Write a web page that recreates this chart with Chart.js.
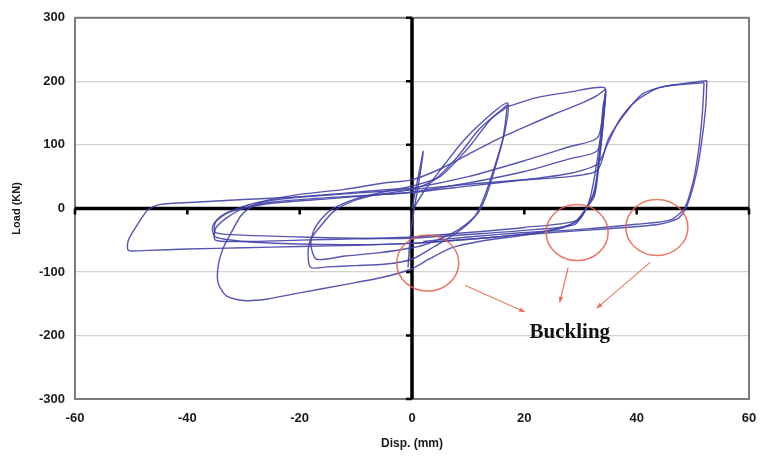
<!DOCTYPE html>
<html>
<head>
<meta charset="utf-8">
<script src="https://cdn.jsdelivr.net/npm/chart.js@4.4.1/dist/chart.umd.min.js"></script>
<style>
  body { margin: 0; background: #fff; }
  canvas { display: block; }
</style>
</head>
<body>
<canvas id="grafico" width="763" height="461"></canvas>
<script>
// Datos: desplazamiento (mm) y carga (KN), por ciclo
// ciclo elastico inicial
const c0x = [0, 1, 2, 1.2, 0.4, -0.3, -0.7, -0.2, 0.3];
const c0y = [0, 45, 90, 40, 0, -45, -92, -40, 0];

// ciclos +-17 mm
const c1x = [0.3, 2, 5, 9, 13, 17, 16.5, 14.5, 12.5, 11, 8, 4, 0, -5, -10, -15, -18, -18.5, -18, -16, -14, -11, -6, 0, 4, 8, 12, 17];
const c1y = [0, 25, 60, 105, 140, 166, 120, 60, 10, -15, -38, -60, -80, -88, -90, -92, -93, -72, -48, -25, -5, 10, 22, 30, 45, 80, 125, 163];
const c2x = [17, 16.2, 14.5, 13, 11.5, 8, 3, 0, -6, -12, -17, -18, -17.5, -16, -14, -10, -4, 0, 5, 10, 14, 17];
const c2y = [163, 110, 55, 15, -10, -35, -55, -62, -70, -75, -80, -58, -35, -15, 0, 15, 28, 35, 50, 95, 140, 160];

// primer ciclo +-34 mm (con el lazo hasta -145 KN)
const c3x = [17, 22, 28, 34.3, 34, 33.5, 32.5, 31.5, 30, 27, 20, 12, 7, 3, 0, -5, -12, -20, -26, -30, -33, -34.5, -34.5, -33.5, -32, -30.5, -29, -26, -20, -12, -5, 0, 5, 10, 15, 20, 25, 30, 33, 34.5];
const c3y = [160, 174, 183, 190, 160, 110, 50, 10, -15, -30, -42, -52, -62, -80, -95, -108, -120, -133, -143, -145, -138, -118, -90, -60, -35, -12, 0, 12, 22, 30, 40, 45, 62, 85, 108, 128, 147, 165, 178, 188];

// ciclos siguientes +-34 mm
const c4x = [34.5, 34.2, 33.5, 32.5, 31, 29, 24, 15, 5, 0, -10, -20, -30, -35, -35.5, -34, -31, -27, -20, -12, -4, 0, 10, 20, 28, 33, 34, 34.5];
const c4y = [188, 150, 90, 30, 0, -22, -35, -45, -52, -55, -57, -56, -52, -45, -28, -12, 0, 10, 18, 24, 30, 32, 50, 75, 97, 111, 150, 185];
const c5x = [34.5, 34, 33.3, 32.5, 31, 29, 22, 12, 3, 0, -10, -20, -30, -35, -35, -33, -30, -25, -15, -5, 0, 10, 20, 28, 33, 34, 34.5];
const c5y = [185, 140, 80, 25, 0, -25, -33, -40, -45, -47, -47, -45, -42, -38, -22, -8, 0, 8, 15, 22, 26, 40, 58, 78, 91, 140, 180];

// ciclos +-52 mm
const c6x = [34.5, 34, 33.3, 32.5, 31, 29, 20, 10, 0, -10, -20, -30, -35, -35, -33, -30, -25, -15, -5, 0, 10, 20, 28, 33, 35, 37, 40, 44, 48, 52.5];
const c6y = [180, 130, 70, 20, 0, -20, -30, -38, -45, -48, -50, -52, -50, -32, -15, 0, 10, 17, 22, 25, 35, 45, 55, 70, 105, 140, 170, 190, 196, 201];
const c7x = [52.5, 52.3, 51.5, 50.5, 49, 47.5, 44, 35, 25, 15, 5, 0, -10, -20, -30, -40, -47, -50.5, -50.5, -48.5, -47, -45, -38, -30, -20, -10, 0, 10, 20, 28, 33, 35, 38, 41, 45, 52];
const c7y = [201, 160, 100, 50, 5, -15, -25, -32, -38, -45, -52, -55, -58, -60, -62, -64, -66, -66, -50, -20, -2, 6, 10, 14, 18, 24, 30, 38, 45, 50, 60, 110, 150, 180, 192, 198];
const c8x = [52, 51.7, 51, 50, 48.5, 46, 40, 30, 20, 10, 2];
const c8y = [198, 150, 90, 40, 0, -18, -25, -33, -38, -45, -52];

const ciclosX = [c0x, c1x, c2x, c3x, c4x, c5x, c6x, c7x, c8x];
const ciclosY = [c0y, c1y, c2y, c3y, c4y, c5y, c6y, c7y, c8y];

// Marcas de pandeo (circulos) y texto
const pandeoX = [2.8, 29.4, 43.6];
const pandeoY = [-86, -38, -30];
const flechaDesdeX = [9.4, 27.8, 42.4];
const flechaDesdeY = [-121, -93, -85];
const flechaHastaX = [20.1, 26.3, 32.9];
const flechaHastaY = [-163, -148, -157];
const textoPandeo = "Buckling";
const textoX = 28.1;
const textoY = -196;

const fuenteEje = { family: "'Liberation Sans', Arial, sans-serif", size: 13, weight: 'bold' };

// Plugin para dibujar el marco, los ejes en cero y las anotaciones
const dibujoExtra = {
    id: 'dibujoExtra',
    beforeDatasetsDraw(chart) {
        const ctx = chart.ctx;
        const a = chart.chartArea;
        const sx = chart.scales.x, sy = chart.scales.y;
        ctx.save();
        // marco gris
        ctx.strokeStyle = '#7a7a7a';
        ctx.lineWidth = 2;
        ctx.strokeRect(a.left, a.top, a.right - a.left, a.bottom - a.top);
        // ejes negros en cero
        const x0 = sx.getPixelForValue(0);
        const y0 = sy.getPixelForValue(0);
        ctx.strokeStyle = '#000';
        ctx.lineWidth = 3.5;
        ctx.beginPath();
        ctx.moveTo(a.left, y0); ctx.lineTo(a.right, y0);
        ctx.moveTo(x0, a.top); ctx.lineTo(x0, a.bottom);
        ctx.stroke();
        // marcas de los ejes
        ctx.lineWidth = 2.5;
        ctx.beginPath();
        for (let v = -60; v <= 60; v += 20) {
            const px = sx.getPixelForValue(v);
            ctx.moveTo(px, y0); ctx.lineTo(px, y0 + 6);
        }
        for (let v = -300; v <= 300; v += 100) {
            const py = sy.getPixelForValue(v);
            ctx.moveTo(x0, py); ctx.lineTo(x0 - 6, py);
        }
        ctx.stroke();
        ctx.restore();
    },
    afterDatasetsDraw(chart) {
        const ctx = chart.ctx;
        const sx = chart.scales.x, sy = chart.scales.y;
        ctx.save();
        ctx.strokeStyle = 'rgba(228, 100, 80, 0.85)';
        ctx.fillStyle = 'rgba(228, 100, 80, 0.9)';
        ctx.lineWidth = 1.6;
        for (let i = 0; i < pandeoX.length; i++) {
            ctx.beginPath();
            ctx.ellipse(sx.getPixelForValue(pandeoX[i]), sy.getPixelForValue(pandeoY[i]), 31, 28, 0, 0, Math.PI * 2);
            ctx.stroke();
        }
        ctx.lineWidth = 1.2;
        for (let i = 0; i < flechaDesdeX.length; i++) {
            const x1 = sx.getPixelForValue(flechaDesdeX[i]), y1 = sy.getPixelForValue(flechaDesdeY[i]);
            const x2 = sx.getPixelForValue(flechaHastaX[i]), y2 = sy.getPixelForValue(flechaHastaY[i]);
            ctx.beginPath();
            ctx.moveTo(x1, y1); ctx.lineTo(x2, y2);
            ctx.stroke();
            const ang = Math.atan2(y2 - y1, x2 - x1);
            ctx.beginPath();
            ctx.moveTo(x2, y2);
            ctx.lineTo(x2 - 6 * Math.cos(ang - 0.4), y2 - 6 * Math.sin(ang - 0.4));
            ctx.lineTo(x2 - 6 * Math.cos(ang + 0.4), y2 - 6 * Math.sin(ang + 0.4));
            ctx.closePath();
            ctx.fill();
        }
        ctx.fillStyle = '#111';
        ctx.font = "bold 21px 'Liberation Serif', 'Times New Roman', serif";
        ctx.textAlign = 'center';
        ctx.textBaseline = 'middle';
        ctx.fillText(textoPandeo, sx.getPixelForValue(textoX), sy.getPixelForValue(textoY));
        ctx.restore();
    }
};

const datasets = ciclosX.map(function (xs, i) {
    const ys = ciclosY[i];
    return {
        data: xs.map(function (x, j) { return { x: x, y: ys[j] }; }),
        borderColor: 'rgba(68, 68, 168, 0.9)',
        borderWidth: 1.4,
        pointRadius: 0,
        showLine: true,
        fill: false,
        tension: 0.25
    };
});

new Chart(document.getElementById('grafico').getContext('2d'), {
    type: 'scatter',
    data: { datasets: datasets },
    plugins: [dibujoExtra],
    options: {
        responsive: false,
        animation: false,
        layout: { padding: { top: 17, right: 14, left: 0, bottom: 0 } },
        plugins: { legend: { display: false }, tooltip: { enabled: false } },
        scales: {
            x: {
                type: 'linear',
                min: -60, max: 60,
                ticks: { stepSize: 20, font: fuenteEje, color: '#1a1a1a', padding: 12 },
                grid: { display: false, drawTicks: false },
                border: { display: false },
                title: { display: true, text: 'Disp. (mm)', color: '#1a1a1a',
                         font: { family: "'Liberation Sans', Arial, sans-serif", size: 12, weight: 'bold' },
                         padding: { top: 0, bottom: 10 } },
                afterFit: function (scale) {
                    scale.height = 62;
                    scale.paddingLeft = 0;
                    scale.paddingRight = 0;
                }
            },
            y: {
                min: -300, max: 300,
                ticks: { stepSize: 100, font: fuenteEje, color: '#1a1a1a', padding: 10 },
                grid: { color: '#d2d2d2', lineWidth: 1.2, drawTicks: false },
                border: { display: false },
                title: { display: true, text: 'Load (KN)', color: '#1a1a1a',
                         font: { family: "'Liberation Sans', Arial, sans-serif", size: 11, weight: 'bold' },
                         padding: { top: 10, bottom: 0 } },
                afterFit: function (scale) { scale.width = 75; }
            }
        }
    }
});
</script>
</body>
</html>
